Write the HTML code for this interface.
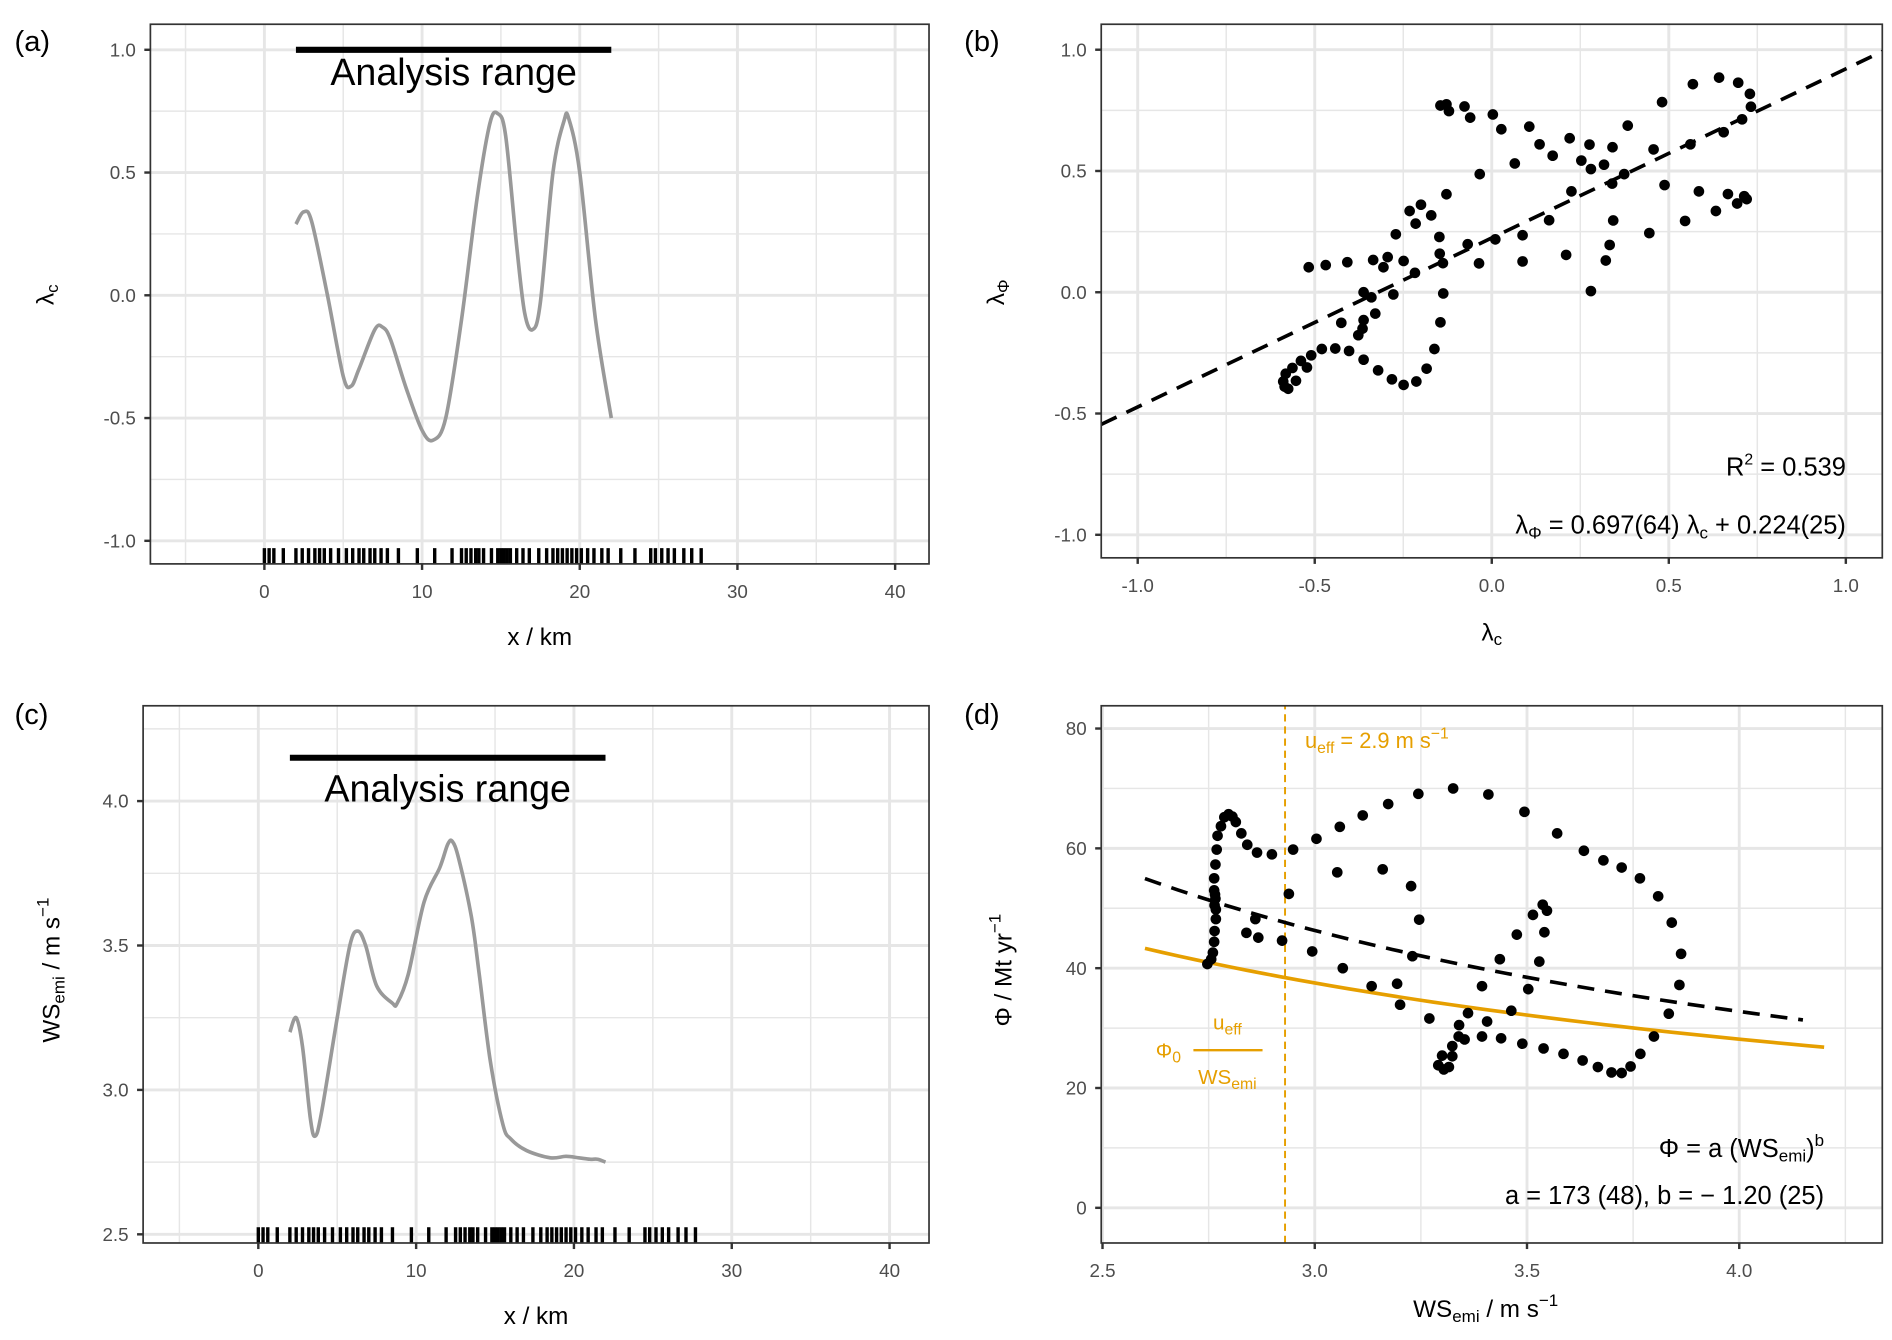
<!DOCTYPE html>
<html><head><meta charset="utf-8">
<style>
html,body{margin:0;padding:0;background:#fff;}
svg{display:block;}
text{font-family:"Liberation Sans","DejaVu Sans",sans-serif;}
</style></head>
<body>
<svg id="fig" width="1892" height="1340" viewBox="0 0 1560 1105" preserveAspectRatio="none" xmlns="http://www.w3.org/2000/svg"></svg>
<script>
// ---- Panel (a) data ----
const aX = [2,2.5,3,4,5,5.5,6,7,7.5,8,9,10,10.7,11.5,12.5,13.5,14.3,14.8,15.3,16,16.5,17,17.5,18.3,19,19.3,20,21,22];
const aY = [0.29,0.34,0.3,0.0,-0.33,-0.37,-0.3,-0.14,-0.13,-0.18,-0.38,-0.55,-0.59,-0.5,-0.1,0.4,0.7,0.74,0.65,0.2,-0.07,-0.14,-0.03,0.5,0.71,0.72,0.5,-0.1,-0.5];
const rugX = [0,0.3,0.6,1.2,2.0,2.4,2.8,3.2,3.5,3.8,4.2,4.7,5.2,5.6,6.0,6.3,6.7,7.0,7.4,7.8,8.5,9.7,10.8,11.9,12.5,12.8,13.1,13.4,13.6,13.9,14.4,14.8,15.0,15.2,15.4,15.6,16.0,16.4,16.8,17.4,17.9,18.3,18.6,18.9,19.2,19.5,19.8,20.1,20.5,20.9,21.4,21.8,22.6,23.5,24.5,24.8,25.2,25.6,26.0,26.6,27.1,27.7];
const rangeKm = [2,22];
const aYTicks = [1.0,0.5,0.0,-0.5,-1.0];
const kmTicks = [0,10,20,30,40];
// ---- Panel (b) data ----
const bX = [-0.145,-0.128,-0.121,-0.077,-0.061,0.003,0.027,0.106,0.135,0.172,0.065,-0.034,0.22,0.253,0.276,0.28,0.317,0.341,0.374,0.384,0.34,0.225,0.457,0.481,0.488,0.568,0.561,0.585,0.642,0.696,0.729,0.732,0.707,0.655,0.667,0.633,0.693,0.713,0.72,0.546,0.445,0.343,0.333,0.322,0.28,0.21,0.162,0.087,0.087,0.01,-0.036,-0.068,-0.128,-0.171,-0.2,-0.232,-0.215,-0.271,-0.249,-0.294,-0.306,-0.335,-0.408,-0.469,-0.517,-0.148,-0.147,-0.138,-0.217,-0.278,-0.362,-0.34,-0.137,-0.329,-0.362,-0.425,-0.365,-0.377,-0.145,-0.162,-0.184,-0.213,-0.249,-0.282,-0.321,-0.362,-0.403,-0.442,-0.48,-0.51,-0.539,-0.522,-0.563,-0.553,-0.582,-0.589,-0.585,-0.575];
const bY = [0.77,0.775,0.747,0.766,0.72,0.733,0.672,0.683,0.61,0.563,0.531,0.487,0.635,0.543,0.609,0.508,0.526,0.598,0.487,0.687,0.448,0.416,0.589,0.784,0.442,0.858,0.61,0.416,0.885,0.864,0.818,0.765,0.713,0.66,0.405,0.335,0.366,0.396,0.384,0.294,0.244,0.296,0.195,0.131,0.005,0.154,0.297,0.235,0.127,0.218,0.119,0.198,0.404,0.317,0.361,0.335,0.283,0.239,0.129,0.145,0.103,0.133,0.124,0.112,0.103,0.228,0.159,0.12,0.08,-0.009,0.0,-0.021,-0.005,-0.088,-0.115,-0.126,-0.15,-0.177,-0.124,-0.234,-0.315,-0.368,-0.382,-0.359,-0.322,-0.278,-0.242,-0.232,-0.234,-0.26,-0.283,-0.31,-0.312,-0.365,-0.336,-0.368,-0.389,-0.398];
const bFit = [0.697,0.224]; // slope, intercept
const bTicks = [-1.0,-0.5,0.0,0.5,1.0];
// ---- Panel (c) data ----
const cX = [2,2.4,2.8,3.3,3.6,4,5,5.8,6.3,6.8,7.5,8.5,8.8,9.5,10.5,11.5,12,12.3,12.7,13.5,14,14.7,15.5,16,17,18.5,19.5,20.3,21,21.5,22];
const cY = [3.2,3.25,3.15,2.9,2.84,2.92,3.25,3.5,3.55,3.5,3.36,3.3,3.3,3.4,3.65,3.77,3.85,3.86,3.8,3.6,3.4,3.1,2.88,2.83,2.79,2.765,2.77,2.765,2.76,2.76,2.75];
const cYTicks = [4.0,3.5,3.0,2.5];
// ---- Panel (d) data ----
const dX = [2.747,2.756,2.76,2.763,2.764,2.767,2.767,2.766,2.763,2.763,2.766,2.769,2.771,2.779,2.787,2.797,2.806,2.814,2.827,2.841,2.864,2.899,2.949,3.004,3.059,3.113,3.173,3.244,3.326,3.409,3.494,3.571,3.634,3.68,3.723,3.766,3.809,3.841,3.863,3.859,3.834,3.799,3.767,3.744,3.723,3.699,3.667,3.631,3.586,3.539,3.489,3.439,3.394,3.353,3.339,3.34,3.361,3.406,3.463,3.503,3.529,3.541,3.547,3.537,3.514,3.476,3.436,3.394,3.324,3.324,3.316,3.304,3.291,3.3,3.27,3.201,3.194,3.134,3.066,2.994,2.923,2.867,2.839,2.86,2.939,3.053,3.16,3.227,3.246,3.23,2.764,2.765];
const dY = [40.7,41.5,42.6,44.4,46.2,48.2,49.8,51.6,53.0,55.0,57.3,59.8,62.1,63.7,65.2,65.7,65.3,64.4,62.5,60.6,59.3,59.0,59.8,61.6,63.6,65.5,67.4,69.1,70.0,69.0,66.1,62.5,59.6,58.0,56.8,55.0,52.0,47.6,42.4,37.2,32.4,28.6,25.7,23.6,22.5,22.6,23.5,24.6,25.7,26.6,27.4,28.3,28.6,28.1,28.6,30.5,32.5,31.1,32.9,36.5,41.1,46.0,49.6,50.6,48.9,45.6,41.5,37.0,27.0,25.3,23.5,23.1,23.8,25.4,31.6,33.9,37.4,37.0,40.0,42.8,44.6,45.1,45.9,48.2,52.4,56.0,56.5,53.7,48.1,42.0,50.5,52.3];
const dFit = [173,-1.20]; // a, b
const dFitRange = [2.6,4.15];
const phi0Ueff = [112.6]; // Phi0*ueff
const phiRange = [2.6,4.2];
const uEff = [2.93];
const dXTicks = [2.5,3.0,3.5,4.0];
const dYTicks = [0,20,40,60,80];

const NS='http://www.w3.org/2000/svg';
const svg=document.getElementById('fig');
function mk(tag,attrs,parent,txt){const e=document.createElementNS(NS,tag);for(const k in attrs)e.setAttribute(k,attrs[k]);if(txt!==undefined)e.textContent=txt;(parent||svg).appendChild(e);return e;}
function scale(d0,d1,p0,p1){return v=>p0+(v-d0)/(d1-d0)*(p1-p0);}

function panel(name,box,xd,yd,xMaj,yMaj,xMin,yMin,xLab,yLab,fmtX,fmtY){
  const g=mk('g',{});
  
  
  const X=scale(xd[0],xd[1],box[0],box[2]),Y=scale(yd[0],yd[1],box[3],box[1]);
  xMin.forEach(v=>{const l=mk('line',{x1:X(v),x2:X(v),y1:box[1],y2:box[3],stroke:'#e6e6e6','stroke-width':1.2},g);});
  yMin.forEach(v=>{const l=mk('line',{x1:box[0],x2:box[2],y1:Y(v),y2:Y(v),stroke:'#e6e6e6','stroke-width':1.2},g);});
  xMaj.forEach(v=>{const l=mk('line',{x1:X(v),x2:X(v),y1:box[1],y2:box[3],stroke:'#e6e6e6','stroke-width':2.4},g);
    const t=mk('line',{x1:X(v),x2:X(v),y1:box[3],y2:box[3]+5,stroke:'#333','stroke-width':2},g);
    const tx=mk('text',{x:X(v),y:box[3]+28,'text-anchor':'middle','font-size':15.5,fill:'#4d4d4d'},g,fmtX(v));});
  yMaj.forEach(v=>{const l=mk('line',{x1:box[0],x2:box[2],y1:Y(v),y2:Y(v),stroke:'#e6e6e6','stroke-width':2.4},g);
    const t=mk('line',{x1:box[0]-5,x2:box[0],y1:Y(v),y2:Y(v),stroke:'#333','stroke-width':2},g);
    const tx=mk('text',{x:box[0]-12,y:Y(v)+5.5,'text-anchor':'end','font-size':15.5,fill:'#4d4d4d'},g,fmtY(v));});
  return {g,X,Y,box};
}
function border(p){const r=mk('rect',{x:p.box[0],y:p.box[1],width:p.box[2]-p.box[0],height:p.box[3]-p.box[1],fill:'none',stroke:'#333','stroke-width':1.4},p.g);}
function path(p,xs,ys,attrs,name){let d='';xs.forEach((x,i)=>{d+=(i?'L':'M')+p.X(x).toFixed(2)+','+p.Y(ys[i]).toFixed(2);});const e=mk('path',Object.assign({d:d,fill:'none'},attrs),p.g);return e;}
function smooth(p,xs,ys,attrs,name){
  const P=xs.map((x,i)=>[p.X(x),p.Y(ys[i])]);let d='M'+P[0][0]+','+P[0][1];
  for(let i=0;i<P.length-1;i++){const p0=P[Math.max(0,i-1)],p1=P[i],p2=P[i+1],p3=P[Math.min(P.length-1,i+2)];
    d+='C'+(p1[0]+(p2[0]-p0[0])/6)+','+(p1[1]+(p2[1]-p0[1])/6)+' '+(p2[0]-(p3[0]-p1[0])/6)+','+(p2[1]-(p3[1]-p1[1])/6)+' '+p2[0]+','+p2[1];}
  const e=mk('path',Object.assign({d:d,fill:'none','stroke-linejoin':'round'},attrs),p.g);return e;}
const f1=v=>v.toFixed(1), f0=v=>String(v);
function label(txt,x,y){const t=mk('text',{x:x,y:y,'font-size':24,fill:'#000'},svg,txt);}
function rug(p,y0){rugX.forEach(v=>{const l=mk('line',{x1:p.X(v),x2:p.X(v),y1:y0,y2:p.box[3],stroke:'#000','stroke-width':2.8},p.g);});}
function rangeBar(p,yv,ty){const l=mk('line',{x1:p.X(rangeKm[0]),x2:p.X(rangeKm[1]),y1:p.Y(yv),y2:p.Y(yv),stroke:'#000','stroke-width':5},p.g);
  const t=mk('text',{x:(p.X(rangeKm[0])+p.X(rangeKm[1]))/2,y:ty,'text-anchor':'middle','font-size':31,fill:'#000'},p.g,'Analysis range');}

// Panel a
const pa=panel('panel-a',[124,20,766,465],[-7.23,42.15],[-1.094,1.104],kmTicks,aYTicks,[-5,5,15,25,35],[0.75,0.25,-0.25,-0.75],'','',f0,f1);
rug(pa,452);
smooth(pa,aX,aY,{stroke:'#999','stroke-width':3},'lambda-c-curve');
rangeBar(pa,1.0,70);
border(pa);
label('(a)',12,42);
let t=mk('text',{x:445,y:532,'text-anchor':'middle','font-size':20},svg,'x / km');
t=mk('text',{x:0,y:0,'font-size':20,transform:'translate(44,243) rotate(-90)','text-anchor':'middle'},svg);t.innerHTML='λ<tspan font-size="14" dy="4">c</tspan>';

// Panel b
const pb=panel('panel-b',[908,20,1552,460],[-1.103,1.103],[-1.095,1.105],bTicks,aYTicks,[-0.75,-0.25,0.25,0.75],[0.75,0.25,-0.25,-0.75],'','',f1,f1);
path(pb,[-1.103,1.103],[bFit[0]*-1.103+bFit[1],bFit[0]*1.103+bFit[1]],{stroke:'#000','stroke-width':3,'stroke-dasharray':'14,9'},'regression-line');
bX.forEach((x,i)=>{const c=mk('circle',{cx:pb.X(x),cy:pb.Y(bY[i]),r:4.4,fill:'#000'},pb.g);});
border(pb);
label('(b)',795,42);
t=mk('text',{x:1522,y:392,'text-anchor':'end','font-size':21},svg);t.innerHTML='R<tspan font-size="13" dy="-9">2</tspan><tspan dy="9"> = 0.539</tspan>';
t=mk('text',{x:1522,y:440,'text-anchor':'end','font-size':21},svg);t.innerHTML='λ<tspan font-size="14" dy="4">Φ</tspan><tspan dy="-4"> = 0.697(64) λ</tspan><tspan font-size="14" dy="4">c</tspan><tspan dy="-4"> + 0.224(25)</tspan>';
t=mk('text',{x:1230,y:528,'text-anchor':'middle','font-size':20},svg);t.innerHTML='λ<tspan font-size="14" dy="4">c</tspan>';
t=mk('text',{x:0,y:0,'font-size':20,transform:'translate(828,241) rotate(-90)','text-anchor':'middle'},svg);t.innerHTML='λ<tspan font-size="14" dy="4">Φ</tspan>';

// Panel c
const pc=panel('panel-c',[118,582,766,1025],[-7.3,42.5],[2.47,4.33],kmTicks,cYTicks,[-5,5,15,25,35],[4.25,3.75,3.25,2.75],'','',f0,f1);
rug(pc,1012);
smooth(pc,cX,cY,{stroke:'#999','stroke-width':3},'ws-emi-curve');
rangeBar(pc,4.15,661);
border(pc);
label('(c)',12,597);
t=mk('text',{x:442,y:1092,'text-anchor':'middle','font-size':20},svg,'x / km');
t=mk('text',{x:0,y:0,'font-size':20,transform:'translate(49,800) rotate(-90)','text-anchor':'middle'},svg);t.innerHTML='WS<tspan font-size="14" dy="4">emi</tspan><tspan dy="-4"> / m s</tspan><tspan font-size="14" dy="-9">−1</tspan>';

// Panel d
const pd=panel('panel-d',[908,582,1552,1025],[2.497,4.337],[-5.87,83.8],dXTicks,dYTicks,[2.75,3.25,3.75,4.25],[70,50,30,10],'','',f1,f0);
path(pd,[uEff[0],uEff[0]],[-5.87,83.8],{stroke:'#E69F00','stroke-width':1.6,'stroke-dasharray':'6,4'},'ueff-line');
const phXs=[],phYs=[];for(let i=0;i<=40;i++){const x=phiRange[0]+(phiRange[1]-phiRange[0])*i/40;phXs.push(x);phYs.push(phi0Ueff[0]/x);}
path(pd,phXs,phYs,{stroke:'#E69F00','stroke-width':3},'phi0-ueff-curve');
const fXs=[],fYs=[];for(let i=0;i<=40;i++){const x=dFitRange[0]+(dFitRange[1]-dFitRange[0])*i/40;fXs.push(x);fYs.push(dFit[0]*Math.pow(x,dFit[1]));}
path(pd,fXs,fYs,{stroke:'#000','stroke-width':3,'stroke-dasharray':'14,9'},'power-fit-line');
dX.forEach((x,i)=>{const c=mk('circle',{cx:pd.X(x),cy:pd.Y(dY[i]),r:4.4,fill:'#000'},pd.g);});
border(pd);
label('(d)',795,597);
t=mk('text',{x:1076,y:617,'font-size':18,fill:'#E69F00'},svg);t.innerHTML='u<tspan font-size="13" dy="4">eff</tspan><tspan dy="-4"> = 2.9 m s</tspan><tspan font-size="13" dy="-8">−1</tspan>';
t=mk('text',{x:1012,y:849,'font-size':17,fill:'#E69F00','text-anchor':'middle'},svg);t.innerHTML='u<tspan font-size="13" dy="4">eff</tspan>';
t=mk('text',{x:953,y:872,'font-size':17,fill:'#E69F00'},svg);t.innerHTML='Φ<tspan font-size="13" dy="4">0</tspan>';
let l=mk('line',{x1:984,x2:1041,y1:866,y2:866,stroke:'#E69F00','stroke-width':2},svg);
t=mk('text',{x:1012,y:894,'font-size':17,fill:'#E69F00','text-anchor':'middle'},svg);t.innerHTML='WS<tspan font-size="13" dy="4">emi</tspan>';
t=mk('text',{x:1504,y:954,'text-anchor':'end','font-size':21},svg);t.innerHTML='Φ = a (WS<tspan font-size="14" dy="4">emi</tspan><tspan dy="-4">)</tspan><tspan font-size="14" dy="-9">b</tspan>';
t=mk('text',{x:1504,y:993,'text-anchor':'end','font-size':21},svg,'a = 173 (48), b = − 1.20 (25)');
t=mk('text',{x:1225,y:1086,'text-anchor':'middle','font-size':20},svg);t.innerHTML='WS<tspan font-size="14" dy="4">emi</tspan><tspan dy="-4"> / m s</tspan><tspan font-size="14" dy="-9">−1</tspan>';
t=mk('text',{x:0,y:0,'font-size':20,transform:'translate(834,800) rotate(-90)','text-anchor':'middle'},svg);t.innerHTML='Φ   / Mt yr<tspan font-size="14" dy="-9">−1</tspan>';
</script>
</body></html>
